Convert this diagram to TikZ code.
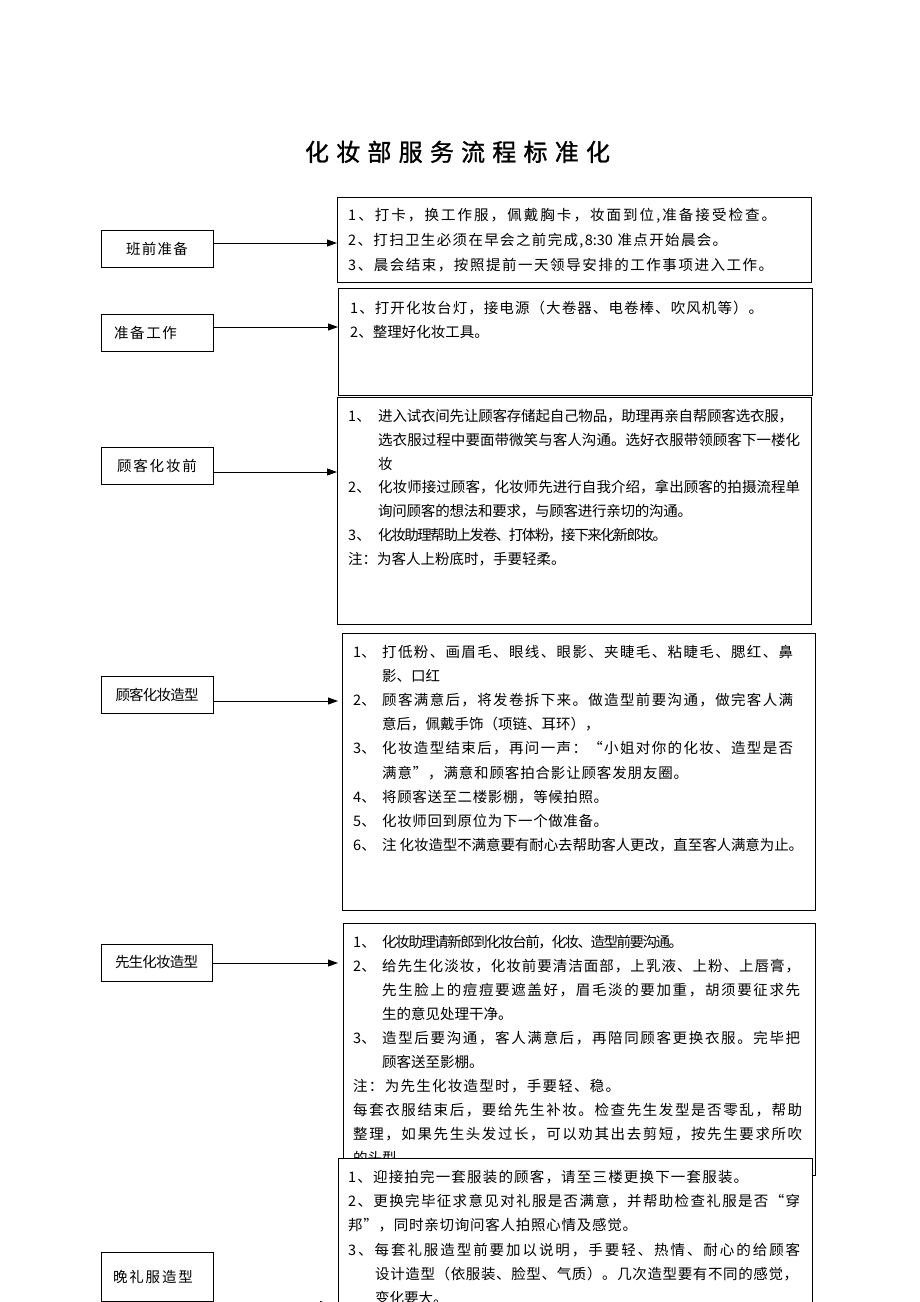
\documentclass[tikz,border=0pt]{standalone}
\usepackage{fontspec}
\setmainfont{Noto Sans CJK SC}
\newfontfamily\titlefont[AutoFakeBold=1.2]{Noto Sans CJK SC}
\usetikzlibrary{arrows.meta}
\makeatletter
\newcommand\jl[2]{\leavevmode\hbox to #1{\@tfor\jl@t:=#2\do{\jl@t\hskip 0pt plus 1fil minus 1.6pt}\unskip}}
\makeatother
\newcommand\nb[1]{\makebox[30pt][l]{#1}}
\newcommand\nc[1]{\makebox[29pt][l]{#1}}
\newenvironment{boxtext}[1]{\begin{minipage}[t]{475pt}\fontsize{14.5}{#1}\selectfont\lineskiplimit=-30pt\lineskip=0pt\relax}{\end{minipage}}
\tikzset{
  lbox/.style={draw=black, line width=0.9pt, minimum width=112pt, minimum height=37pt, inner sep=0pt, font=\fontsize{14.5}{16}\selectfont},
  rbox/.style={draw=black, line width=0.9pt, fill=white, anchor=north west, inner sep=0pt},
  btext/.style={anchor=base west, inner sep=0pt},
  arr/.style={line width=0.9pt, -{Triangle[length=10pt,width=7pt]}}
}
\begin{document}
\begin{tikzpicture}[x=1pt,y=-1pt]
\clip (0,0) rectangle (920,1302);
\fill[white] (0,0) rectangle (920,1302);

\node[anchor=base, inner sep=0pt, font=\titlefont\bfseries\fontsize{24}{26}\selectfont] (title) at (457.5,161) {\jl{305pt}{化妆部服务流程标准化}};

% left boxes
\node[lbox] (l1) at (157,248.5) {\jl{62pt}{班前准备}};
\node[lbox] (l2) at (157,332.5) {\jl{63pt}{准备工作}\hspace*{23pt}};
\node[lbox] (l3) at (157,466) {\jl{80pt}{顾客化妆前}};
\node[lbox] (l4) at (157,694.5) {\jl{83pt}{顾客化妆造型}};
\node[lbox, minimum width=111pt] (l5) at (156.5,962.5) {\jl{83pt}{先生化妆造型}};
\node[lbox, minimum height=49pt] (l6) at (157,1276.5) {\jl{80pt}{晚礼服造型}\hspace*{8pt}};

% right boxes
\node[rbox, minimum width=474pt, minimum height=85pt] (r1) at (337,197) {};
\node[btext] (t1) at (348,220.5) {\begin{boxtext}{24.8pt}%
\jl{428pt}{1、打卡，换工作服，佩戴胸卡，妆面到位,准备接受检查。}\\
\jl{379pt}{2、打扫卫生必须在早会之前完成,{8:30\ }准点开始晨会。}\\
\jl{425pt}{3、晨会结束，按照提前一天领导安排的工作事项进入工作。}
\end{boxtext}};

\node[rbox, minimum width=474pt, minimum height=107pt] (r2) at (338,288) {};
\node[btext] (t2) at (350,313.5) {\begin{boxtext}{24pt}%
\jl{413pt}{1、打开化妆台灯，接电源（大卷器、电卷棒、吹风机等）。}\\
2、整理好化妆工具。
\end{boxtext}};

\node[rbox, minimum width=474pt, minimum height=227pt] (r3) at (337,397) {};
\node[btext] (t3) at (348,421.5) {\begin{boxtext}{23.8pt}%
\nb{1、}\jl{415pt}{进入试衣间先让顾客存储起自己物品，助理再亲自帮顾客选衣服，}\\
\hspace*{30pt}\jl{422pt}{选衣服过程中要面带微笑与客人沟通。选好衣服带领顾客下一楼化}\\
\hspace*{30pt}妆\\
\nb{2、}\jl{422pt}{化妆师接过顾客，化妆师先进行自我介绍，拿出顾客的拍摄流程单}\\
\hspace*{30pt}\jl{314pt}{询问顾客的想法和要求，与顾客进行亲切的沟通。}\\
\nb{3、}\jl{289pt}{化妆助理帮助上发卷、打体粉，接下来化新郎妆。}\\
注：为客人上粉底时，手要轻柔。
\end{boxtext}};

\node[rbox, minimum width=473pt, minimum height=277pt] (r4) at (342,633) {};
\node[btext] (t4) at (353,657.5) {\begin{boxtext}{24.1pt}%
\nc{1、}\jl{411pt}{打低粉、画眉毛、眼线、眼影、夹睫毛、粘睫毛、腮红、鼻}\\
\hspace*{29pt}影、口红\\
\nc{2、}\jl{411pt}{顾客满意后，将发卷拆下来。做造型前要沟通，做完客人满}\\
\hspace*{29pt}意后，佩戴手饰（项链、耳环），\\
\nc{3、}\jl{411pt}{化妆造型结束后，再问一声：“小姐对你的化妆、造型是否}\\
\hspace*{29pt}\jl{306pt}{满意”，满意和顾客拍合影让顾客发朋友圈。}\\
\nc{4、}\jl{226pt}{将顾客送至二楼影棚，等候拍照。}\\
\nc{5、}\jl{226pt}{化妆师回到原位为下一个做准备。}\\
\nc{6、}\jl{421pt}{注\ 化妆造型不满意要有耐心去帮助客人更改，直至客人满意为止。}
\end{boxtext}};

\node[rbox, minimum width=472pt, minimum height=252pt] (r5) at (343,923) {};
\node[btext] (t5) at (353,947.5) {\begin{boxtext}{24pt}%
\nc{1、}\jl{301pt}{化妆助理请新郎到化妆台前，化妆、造型前要沟通。}\\
\nc{2、}\jl{418pt}{给先生化淡妆，化妆前要清洁面部，上乳液、上粉、上唇膏，}\\
\hspace*{29pt}\jl{418pt}{先生脸上的痘痘要遮盖好，眉毛淡的要加重，胡须要征求先}\\
\hspace*{29pt}生的意见处理干净。\\
\nc{3、}\jl{418pt}{造型后要沟通，客人满意后，再陪同顾客更换衣服。完毕把}\\
\hspace*{29pt}顾客送至影棚。\\
\jl{267pt}{注：为先生化妆造型时，手要轻、稳。}\\
\jl{449pt}{每套衣服结束后，要给先生补妆。检查先生发型是否零乱，帮助}\\
\jl{449pt}{整理，如果先生头发过长，可以劝其出去剪短，按先生要求所吹}\\
的头型
\end{boxtext}};

\node[rbox, minimum width=474pt, minimum height=162pt] (r6) at (338,1158) {};
\node[btext] (t6) at (348,1182.3) {\begin{boxtext}{24.3pt}%
\jl{400pt}{1、迎接拍完一套服装的顾客，请至三楼更换下一套服装。}\\
\jl{452pt}{2、更换完毕征求意见对礼服是否满意，并帮助检查礼服是否“穿}\\
\jl{289pt}{邦”，同时亲切询问客人拍照心情及感觉。}\\
\jl{452pt}{3、每套礼服造型前要加以说明，手要轻、热情、耐心的给顾客}\\
\hspace*{27pt}\jl{423pt}{设计造型（依服装、脸型、气质）。几次造型要有不同的感觉，}\\
\hspace*{27pt}变化要大。
\end{boxtext}};

% arrows
\draw[arr] (l1.east |- 0,243) -- (r1.west |- 0,243);
\draw[arr] (l2.east |- 0,327) -- (r2.west |- 0,327);
\draw[arr] (l3.east |- 0,472) -- (r3.west |- 0,472);
\draw[arr, shorten >=4pt] (l4.east |- 0,701) -- (r4.west |- 0,701);
\draw[arr, shorten >=5pt] (l5.east |- 0,963) -- (r5.west |- 0,963);
\draw[arr, shorten >=8pt] (l6.east |- 0,1304.5) -- (r6.west |- 0,1304.5);
\end{tikzpicture}
\end{document}
